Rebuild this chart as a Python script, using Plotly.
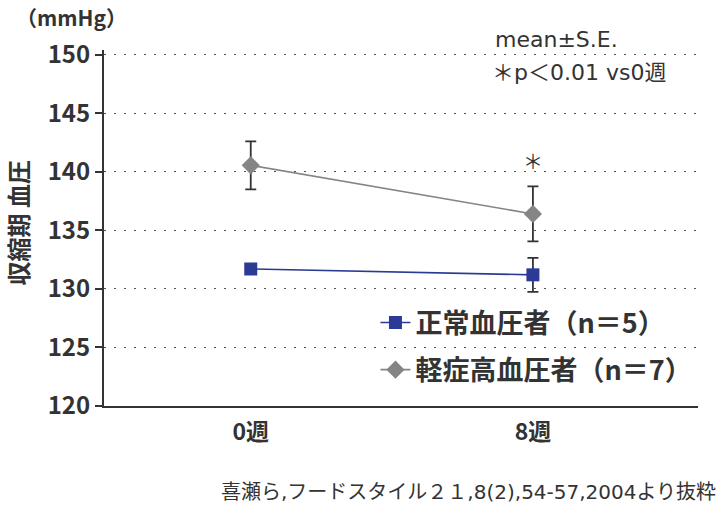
import plotly.graph_objects as go

weeks = ["0週", "8週"]
x_pos = [0, 1]
normal_mean = [131.7, 131.2]
normal_se = [0.25, 1.45]
mild_mean = [140.55, 136.4]
mild_se = [2.05, 2.35]
y_ticks = [120, 125, 130, 135, 140, 145, 150]

CJK = "Noto Sans CJK JP"
LAT = "DejaVu Sans, Noto Sans CJK JP"
DARK = "#333333"
BLUE = "#2b3a94"
GRAY = "#858585"

fig = go.Figure()
fig.add_trace(go.Scatter(
    x=x_pos, y=normal_mean, mode="lines+markers", name="<b>正常血圧者（n＝5）</b>",
    legendgroup="a",
    line=dict(color=BLUE, width=1.6),
    marker=dict(symbol="square", size=13, color=BLUE),
    error_y=dict(type="data", array=normal_se, color=DARK, thickness=1.8, width=5.5),
))
fig.add_trace(go.Scatter(
    x=x_pos, y=mild_mean, mode="lines+markers", name="<b>軽症高血圧者（n＝7）</b>",
    legendgroup="b",
    line=dict(color=GRAY, width=1.6),
    marker=dict(symbol="diamond", size=14, color=GRAY),
    error_y=dict(type="data", array=mild_se, color=DARK, thickness=1.8, width=5.5),
))

fig.add_annotation(x=x_pos[1], y=mild_mean[1] + mild_se[1], text="＊", showarrow=False,
                   yshift=26, font=dict(size=20, color=DARK, family=CJK))
fig.add_annotation(xref="paper", yref="paper", x=0.655, y=1.029, xanchor="left", yanchor="middle",
                   text="mean±S.E.", showarrow=False, font=dict(size=22, color=DARK, family=LAT))
fig.add_annotation(xref="paper", yref="paper", x=0.649, y=0.937, xanchor="left", yanchor="middle",
                   text="＊p＜0.01 vs0週", showarrow=False, font=dict(size=22, color=DARK, family=LAT))
fig.add_annotation(xref="paper", yref="paper", x=-0.152, y=1.092, xanchor="left", yanchor="middle",
                   text="<b>（mmHg）</b>", showarrow=False, font=dict(size=21, color=DARK, family=CJK))
fig.add_annotation(xref="paper", yref="paper", x=-0.145, y=0.515, xanchor="center", yanchor="middle",
                   textangle=-90, text="<b>収縮期 血圧</b>", showarrow=False,
                   font=dict(size=24, color=DARK, family=CJK))
fig.add_annotation(xref="paper", yref="paper", x=1.034, y=-0.242, xanchor="right", yanchor="middle",
                   text="喜瀬ら,フードスタイル２１,8(2),54-57,2004より抜粋", showarrow=False,
                   font=dict(size=20, color=DARK, family=LAT))

fig.update_layout(
    width=720, height=510,
    margin=dict(l=104, r=22, t=50, b=104),
    paper_bgcolor="white", plot_bgcolor="white",
    font=dict(family=CJK, color=DARK),
    showlegend=True,
    legend=dict(x=0.457, y=0.302, xanchor="left", yanchor="top", bgcolor="rgba(0,0,0,0)",
                font=dict(size=27, family=CJK), tracegroupgap=9, itemwidth=30),
    xaxis=dict(range=[-0.52, 1.585], tickvals=x_pos, ticktext=weeks, showgrid=False, zeroline=False,
               showline=True, linecolor=DARK, linewidth=2, ticks="", automargin=False,
               ticklabelstandoff=4,
               tickfont=dict(size=23, family=CJK, color=DARK, weight="bold")),
    yaxis=dict(range=[120, 150.4], tickvals=y_ticks, showgrid=True, griddash="2px,8px",
               gridcolor="#555", gridwidth=1, zeroline=False, automargin=False,
               showline=True, linecolor=DARK, linewidth=2, ticks="outside", ticklen=7,
               tickcolor=DARK, tickwidth=2,
               tickfont=dict(size=24, family=CJK, color=DARK, weight="bold")),
)
fig.write_html("out.html", config={"displayModeBar": False},
               post_script="document.body.style.margin='0';")
